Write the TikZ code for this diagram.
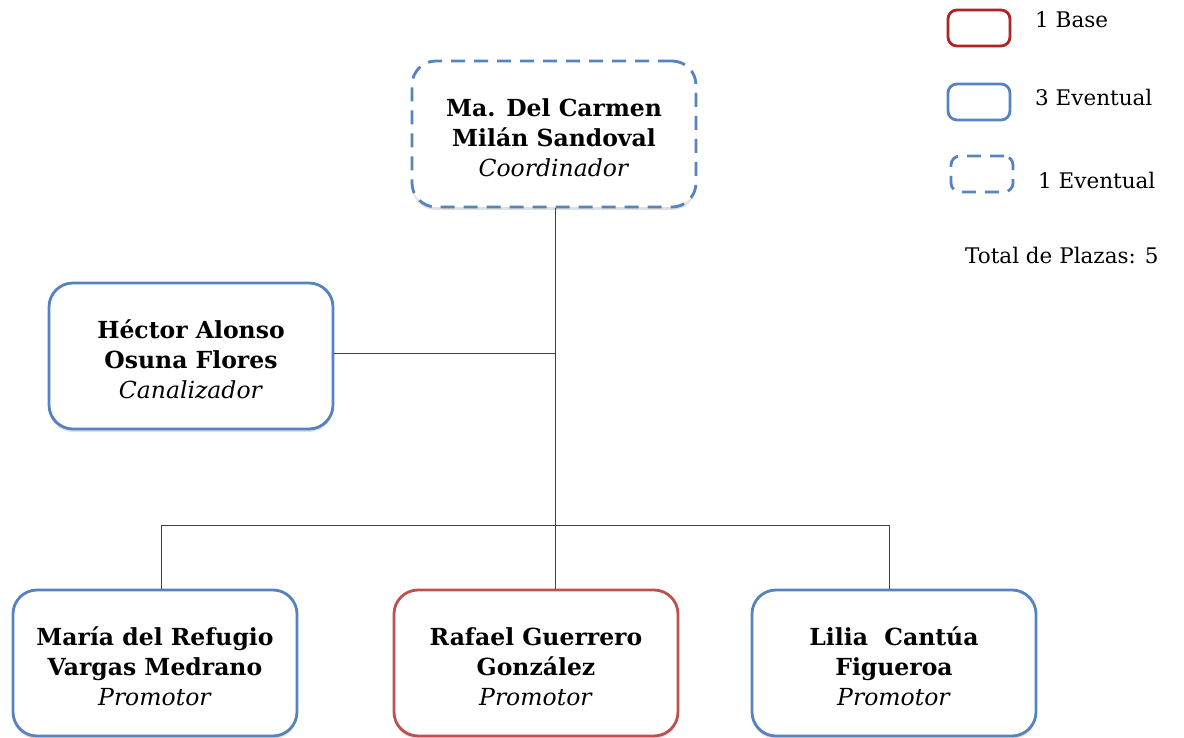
\documentclass[tikz,border=0pt]{standalone}
\usepackage{fontspec}
\setmainfont{DejaVu Serif}
\usetikzlibrary{shadows}
\definecolor{boxblue}{HTML}{5682BF}
\definecolor{boxred}{HTML}{C0504D}
\definecolor{legred}{HTML}{B22222}
\newcommand{\tstrut}{\rule{0pt}{25pt}}
\tikzset{
  x=1pt, y=-1pt,
  person/.style={draw=boxblue, line width=2.8pt, rounded corners=24pt, fill=white,
    minimum width=284pt, minimum height=146pt, align=center, font=\fontsize{23.5}{30}\selectfont,
    drop shadow={shadow xshift=0pt, shadow yshift=-3pt, opacity=0.25}},
  redperson/.style={person, draw=boxred},
  dashperson/.style={person, dash pattern=on 14pt off 9pt},
  conn/.style={draw=black!75, line width=0.9pt},
  legbox/.style={draw=boxblue, line width=2.8pt, rounded corners=9pt, minimum width=62pt, minimum height=36pt},
  legtext/.style={anchor=west, font=\fontsize{21.5}{24}\selectfont, inner sep=0pt}
}
\begin{document}
\begin{tikzpicture}
\useasboundingbox (0,0) rectangle (1184,738);
\node[dashperson] (coord) at (554,134) {\tstrut\textbf{Ma. Del Carmen}\\\textbf{Milán Sandoval}\\\textit{Coordinador}};
\node[person] (hector) at (191,356) {\tstrut\textbf{Héctor Alonso}\\\textbf{Osuna Flores}\\\textit{Canalizador}};
\node[person] (maria) at (155,663) {\tstrut\textbf{María del Refugio}\\\textbf{Vargas Medrano}\\\textit{Promotor}};
\node[redperson] (rafael) at (536,663) {\tstrut\textbf{Rafael Guerrero}\\\textbf{González}\\\textit{Promotor}};
\node[person] (lilia) at (894,663) {\tstrut\textbf{Lilia\ \ Cantúa}\\\textbf{Figueroa}\\\textit{Promotor}};
\coordinate (hj) at (555,353);
\coordinate (bus) at (555,525);
\coordinate (busl) at (161,525);
\coordinate (busr) at (889,525);
\draw[conn] (coord.south -| bus) -- (rafael.north -| bus);
\draw[conn] (hector.east |- hj) -- (hj);
\draw[conn] (busl) -- (busr);
\draw[conn] (busl) -- (maria.north -| busl);
\draw[conn] (busr) -- (lilia.north -| busr);
% legend
\node[legbox, draw=legred] (lb1) at (979,28) {};
\node[legbox] (lb2) at (979,102) {};
\node[legbox, dash pattern=on 14pt off 9pt] (lb3) at (982,174) {};
\node[legtext] (lt1) at (1035,20) {1 Base};
\node[legtext] (lt2) at (1035,97) {3 Eventual};
\node[legtext] (lt3) at (1038,180) {1 Eventual};
\node[legtext] (lt4) at (965,255) {Total de Plazas: 5};
\end{tikzpicture}
\end{document}
